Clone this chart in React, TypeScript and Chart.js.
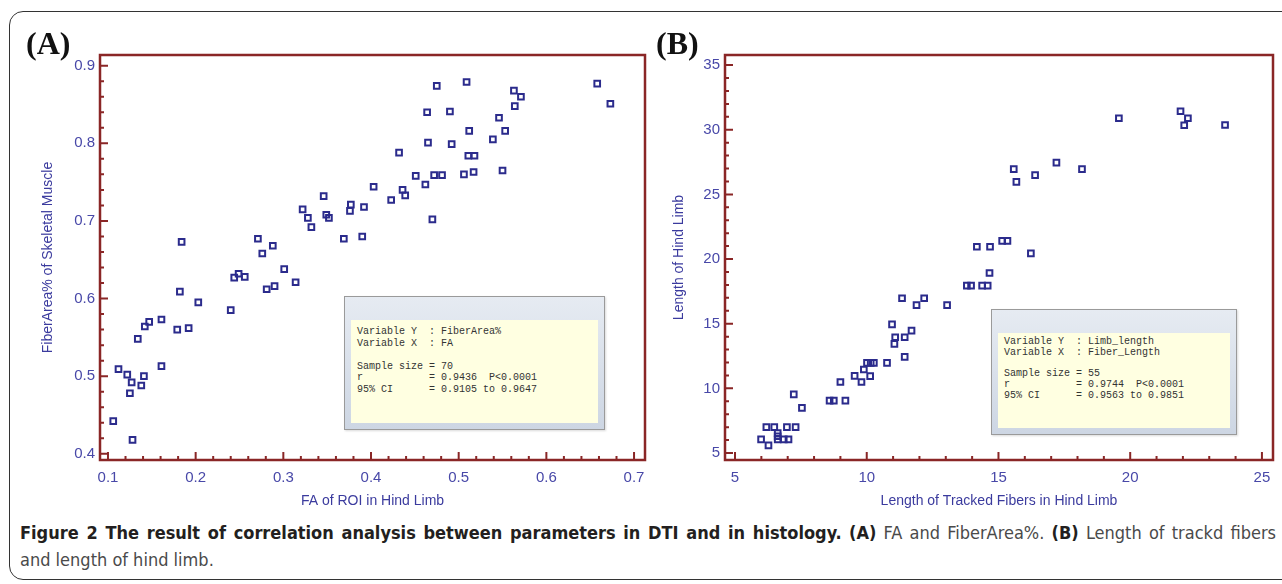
import React, { useEffect, useRef } from 'react';
import { Chart, registerables } from 'chart.js';

Chart.register(...registerables);

// ---------- data ----------
const faValues = [
  0.106, 0.128, 0.112, 0.122, 0.127, 0.125, 0.141, 0.138, 0.134, 0.142,
  0.147, 0.161, 0.161, 0.184, 0.182, 0.179, 0.192, 0.203, 0.240, 0.244,
  0.249, 0.256, 0.271, 0.276, 0.288, 0.281, 0.290, 0.301, 0.314, 0.332,
  0.369, 0.322, 0.328, 0.346, 0.349, 0.352, 0.475, 0.509, 0.563, 0.571,
  0.564, 0.658, 0.673, 0.464, 0.490, 0.546, 0.512, 0.553, 0.539, 0.465,
  0.492, 0.432, 0.511, 0.518, 0.550, 0.517, 0.506, 0.451, 0.472, 0.481,
  0.462, 0.403, 0.436, 0.439, 0.423, 0.392, 0.377, 0.376, 0.470, 0.390,
];
const fiberAreaValues = [
  0.442, 0.418, 0.509, 0.502, 0.492, 0.478, 0.500, 0.488, 0.548, 0.564,
  0.570, 0.573, 0.513, 0.673, 0.609, 0.560, 0.562, 0.595, 0.585, 0.627,
  0.632, 0.628, 0.677, 0.658, 0.668, 0.612, 0.616, 0.638, 0.621, 0.692,
  0.677, 0.715, 0.704, 0.732, 0.708, 0.704, 0.874, 0.879, 0.868, 0.860,
  0.848, 0.877, 0.851, 0.840, 0.841, 0.833, 0.816, 0.816, 0.805, 0.801,
  0.799, 0.788, 0.784, 0.784, 0.765, 0.763, 0.760, 0.758, 0.759, 0.759,
  0.747, 0.744, 0.740, 0.733, 0.727, 0.718, 0.721, 0.713, 0.702, 0.680,
];

const fiberLengthValues = [
  6.27, 5.99, 6.62, 6.85, 7.03, 6.62, 6.62, 6.19, 6.49, 6.97,
  7.30, 7.23, 7.54, 8.59, 8.75, 9.19, 9.00, 9.54, 9.80, 9.89,
  10.13, 10.01, 10.27, 10.15, 10.77, 11.44, 11.05, 11.08, 11.44, 11.70,
  10.96, 11.34, 11.89, 12.18, 13.05, 13.80, 13.96, 14.38, 14.59, 14.66,
  14.18, 14.68, 15.14, 15.34, 16.23, 19.57, 21.91, 22.19, 22.05, 23.60,
  15.58, 15.68, 16.39, 17.20, 18.17,
];
const limbLengthValues = [
  5.59, 6.05, 6.05, 6.05, 6.05, 6.54, 6.30, 7.0, 7.0, 7.0,
  7.0, 9.54, 8.49, 9.05, 9.05, 9.05, 10.49, 10.97, 10.49, 11.46,
  10.95, 11.97, 11.97, 11.97, 11.97, 12.44, 13.44, 13.95, 13.95, 14.46,
  14.95, 16.97, 16.44, 16.97, 16.44, 17.95, 17.95, 17.95, 17.95, 18.92,
  20.95, 20.95, 21.41, 21.41, 20.44, 30.89, 31.43, 30.89, 30.35, 30.37,
  26.95, 25.97, 26.49, 27.46, 26.95,
];

const statsA = [
  'Variable Y  : FiberArea%',
  'Variable X  : FA',
  '',
  'Sample size = 70',
  'r           = 0.9436  P<0.0001',
  '95% CI      = 0.9105 to 0.9647',
];
const statsB = [
  'Variable Y  : Limb_length',
  'Variable X  : Fiber_Length',
  '',
  'Sample size = 55',
  'r           = 0.9744  P<0.0001',
  '95% CI      = 0.9563 to 0.9851',
];

// ---------- styles ----------
const AXIS_RED = '#8a2626';
const TICK_BLUE = '#4848a8';
const TITLE_BLUE = '#3b3b9e';
const POINT_NAVY = '#2b2b8c';

const isMultiple = (v: number, step: number) => Math.abs(v / step - Math.round(v / step)) < 1e-6;

const frameTicksPlugin = {
  id: 'frameTicks',
  afterDraw(chart: any, _args: any, opts: any) {
    const { ctx, chartArea } = chart;
    const { left, right, top, bottom } = chartArea;
    const xs = chart.scales.x;
    const ys = chart.scales.y;
    ctx.save();
    ctx.strokeStyle = AXIS_RED;
    ctx.lineWidth = 2;
    ctx.beginPath();
    xs.ticks.forEach((t: any) => {
      const px = xs.getPixelForValue(t.value);
      const len = isMultiple(t.value, opts.xMajor) ? 8 : 4;
      ctx.moveTo(px, bottom);
      ctx.lineTo(px, bottom - len);
    });
    ys.ticks.forEach((t: any) => {
      const py = ys.getPixelForValue(t.value);
      const len = isMultiple(t.value, opts.yMajor) ? 8 : 4;
      ctx.moveTo(left, py);
      ctx.lineTo(left + len, py);
    });
    ctx.stroke();
    ctx.lineWidth = 2.5;
    ctx.strokeRect(left, top, right - left, bottom - top);
    ctx.restore();
  },
};

type PanelProps = {
  xs: number[];
  ys: number[];
  xMin: number; xMax: number; xStep: number; xMajor: number;
  yMin: number; yMax: number; yStep: number; yMajor: number;
  xTitle: string; yTitle: string;
  fmt: (v: number) => string;
  padLeft: number; padRight: number; yWidth: number;
  width: number; height: number;
};

function ScatterPanel(p: PanelProps) {
  const ref = useRef<HTMLCanvasElement | null>(null);
  useEffect(() => {
    if (!ref.current) return;
    const tickFont = { family: '"Liberation Sans", Arial, sans-serif', size: 15 };
    const titleFont = { family: '"Liberation Sans", Arial, sans-serif', size: 14 };
    const chart = new Chart(ref.current, {
      type: 'scatter',
      data: {
        datasets: [
          {
            data: p.xs.map((x, i) => ({ x, y: p.ys[i] })),
            pointStyle: 'rect',
            pointRadius: 4,
            pointHoverRadius: 4,
            borderColor: POINT_NAVY,
            backgroundColor: 'rgba(0,0,0,0)',
            borderWidth: 2,
          },
        ],
      },
      options: {
        animation: false,
        responsive: false,
        maintainAspectRatio: false,
        events: [],
        layout: { padding: { left: p.padLeft, right: p.padRight, top: 55, bottom: 0 } },
        plugins: {
          legend: { display: false },
          tooltip: { enabled: false },
          frameTicks: { xMajor: p.xMajor, yMajor: p.yMajor },
        } as any,
        scales: {
          x: {
            type: 'linear',
            min: p.xMin,
            max: p.xMax,
            grid: { display: false, drawTicks: false },
            border: { display: false },
            ticks: {
              stepSize: p.xStep,
              autoSkip: false,
              includeBounds: false,
              maxRotation: 0,
              padding: 9,
              color: TICK_BLUE,
              font: tickFont,
              callback: (v: any) => (isMultiple(Number(v), p.xMajor) ? p.fmt(Number(v)) : ''),
            },
            title: {
              display: true,
              text: p.xTitle,
              color: TITLE_BLUE,
              font: titleFont,
              padding: { top: 0, bottom: 10 },
            },
            afterFit: (s: any) => { s.height = 60; },
          },
          y: {
            type: 'linear',
            min: p.yMin,
            max: p.yMax,
            grid: { display: false, drawTicks: false },
            border: { display: false },
            ticks: {
              stepSize: p.yStep,
              autoSkip: false,
              includeBounds: false,
              padding: 5,
              color: TICK_BLUE,
              font: tickFont,
              callback: (v: any) => (isMultiple(Number(v), p.yMajor) ? p.fmt(Number(v)) : ''),
            },
            title: {
              display: true,
              text: p.yTitle,
              color: TITLE_BLUE,
              font: titleFont,
              padding: { top: 0, bottom: 0 },
            },
            afterFit: (s: any) => { s.width = p.yWidth; },
          },
        },
      } as any,
      plugins: [frameTicksPlugin],
    });
    return () => chart.destroy();
  }, []);
  return <canvas ref={ref} width={p.width} height={p.height} style={{ width: p.width, height: p.height, display: 'block' }} />;
}

function StatsBox({ lines, left, top, width, height, lineHeight, padTop }: { lines: string[]; left: number; top: number; width: number; height: number; lineHeight: number; padTop: number }) {
  return (
    <div
      style={{
        position: 'absolute', left, top, width, height, boxSizing: 'border-box',
        border: '1px solid #9a9a9a',
        background: 'linear-gradient(#e6ebf2, #cdd6e3)',
        boxShadow: '1px 1px 2px rgba(0,0,0,0.15)',
      }}
    >
      <div
        style={{
          position: 'absolute', left: 6, right: 6, top: 23, bottom: 6,
          background: '#ffffe1',
          padding: `${padTop}px 0 0 6px`,
          fontFamily: '"Liberation Mono", "Courier New", monospace',
          fontSize: 10,
          lineHeight: `${lineHeight}px`,
          color: '#333',
          whiteSpace: 'pre',
        }}
      >
        {lines.map((l, i) => (
          <div key={i} style={{ height: lineHeight }}>{l}</div>
        ))}
      </div>
    </div>
  );
}

export default function App() {
  const fmtA = (v: number) => (Math.round(v * 10) / 10).toFixed(1);
  const fmtB = (v: number) => String(Math.round(v));
  const panelLabel: React.CSSProperties = {
    position: 'absolute', fontFamily: '"Liberation Serif", "Times New Roman", serif',
    fontWeight: 'bold', fontSize: 32, lineHeight: '32px', color: '#111',
  };
  const capBase: React.CSSProperties = {
    position: 'absolute', left: 20, width: 1256,
    fontFamily: '"Liberation Sans Narrow", "DejaVu Sans Condensed", "Arial Narrow", sans-serif',
    fontSize: 18, lineHeight: '22px', color: '#4a4a4a', whiteSpace: 'nowrap',
  };
  return (
    <div style={{ position: 'absolute', left: 0, top: 0, width: 1282, height: 584, overflow: 'hidden', background: '#fff' }}>
      <div
        style={{
          position: 'absolute', left: 9, top: 11, width: 1300, height: 569,
          border: '1.5px solid #333', borderRadius: 14, boxSizing: 'border-box',
        }}
      />
      <div style={{ position: 'absolute', left: 0, top: 0 }}>
        <ScatterPanel
          xs={faValues} ys={fiberAreaValues}
          xMin={0.0909} xMax={0.7125} xStep={0.02} xMajor={0.1}
          yMin={0.392} yMax={0.9138} yStep={0.02} yMajor={0.1}
          xTitle="FA of ROI in Hind Limb" yTitle="FiberArea% of Skeletal Muscle"
          fmt={fmtA} padLeft={40} padRight={15} yWidth={60}
          width={660} height={520}
        />
      </div>
      <div style={{ position: 'absolute', left: 655, top: 0 }}>
        <ScatterPanel
          xs={fiberLengthValues} ys={limbLengthValues}
          xMin={4.62} xMax={25.42} xStep={1} xMajor={5}
          yMin={4.46} yMax={35.78} yStep={1} yMajor={5}
          xTitle="Length of Tracked Fibers in Hind Limb" yTitle="Length of Hind Limb"
          fmt={fmtB} padLeft={16} padRight={9} yWidth={54}
          width={627} height={520}
        />
      </div>
      <div style={{ ...panelLabel, left: 26, top: 27 }}>(A)</div>
      <div style={{ ...panelLabel, left: 656, top: 27 }}>(B)</div>
      <StatsBox lines={statsA} left={344} top={296} width={261} height={134} lineHeight={11.6} padTop={6} />
      <StatsBox lines={statsB} left={991} top={309} width={246} height={126} lineHeight={10.8} padTop={4} />
      <div style={{ ...capBase, top: 522, textAlign: 'justify', textAlignLast: 'justify' as any, whiteSpace: 'normal', height: 22, overflow: 'hidden' }}>
        <b style={{ color: '#231f20' }}>Figure 2 The result of correlation analysis between parameters in DTI and in histology.</b>{' '}
        <b style={{ color: '#231f20' }}>(A)</b> FA and FiberArea%. <b style={{ color: '#231f20' }}>(B)</b> Length of trackd fibers
      </div>
      <div style={{ ...capBase, top: 549 }}>and length of hind limb.</div>
    </div>
  );
}
